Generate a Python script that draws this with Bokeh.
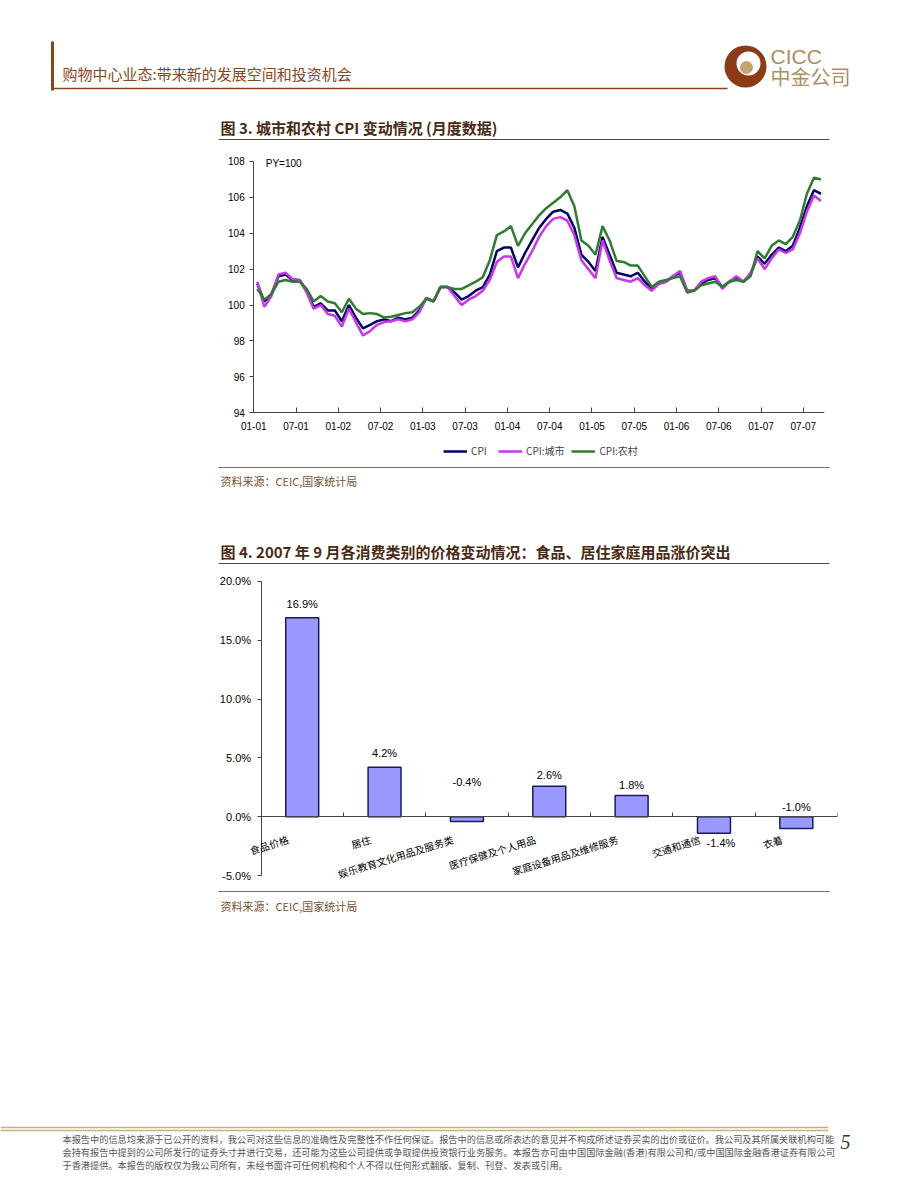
import numpy as np
from bokeh.plotting import figure
from bokeh.models import (Range1d, FixedTicker, Legend, LegendItem, PrintfTickFormatter,
                          Label, LabelSet, ColumnDataSource)
from bokeh.core.properties import value
from bokeh.embed import file_html
from bokeh.resources import INLINE

# ---------------- data ----------------
months = [f"{y}-{m:02d}" for y in range(2001, 2008) for m in range(1, 13)][:81]
tick_labels = ["01-01", "07-01", "01-02", "07-02", "01-03", "07-03", "01-04",
               "07-04", "01-05", "07-05", "01-06", "07-06", "01-07", "07-07"]

cpi = [101.2, 100.2, 100.6, 101.6, 101.7, 101.4, 101.4, 100.8, 99.9, 100.1, 99.7, 99.7,
       99.1, 100.0, 99.3, 98.7, 98.9, 99.1, 99.2, 99.1, 99.3, 99.2, 99.3, 99.7,
       100.4, 100.2, 101.0, 101.0, 100.7, 100.3, 100.5, 100.8, 101.0, 101.7, 103.0, 103.2,
       103.2, 102.1, 102.9, 103.6, 104.3, 104.8, 105.2, 105.3, 105.1, 104.3, 102.8, 102.4,
       101.9, 103.8, 102.8, 101.8, 101.7, 101.6, 101.8, 101.3, 100.9, 101.2, 101.3, 101.6,
       101.8, 100.8, 100.8, 101.2, 101.4, 101.5, 101.0, 101.3, 101.5, 101.3, 101.7, 102.7,
       102.3, 102.8, 103.2, 103.0, 103.3, 104.3, 105.5, 106.4, 106.2]
cpi_urban = [101.3, 99.9, 100.5, 101.7, 101.8, 101.45, 101.4, 100.7, 99.8, 100.0, 99.5, 99.4,
             98.8, 99.8, 99.05, 98.3, 98.55, 98.9, 99.05, 99.1, 99.2, 99.1, 99.2, 99.6,
             100.4, 100.2, 101.0, 101.0, 100.5, 100.0, 100.3, 100.5, 100.8, 101.4, 102.4, 102.7,
             102.7, 101.5, 102.3, 103.0, 103.8, 104.4, 104.8, 104.9, 104.7, 103.9, 102.5, 102.0,
             101.5, 103.6, 102.5, 101.5, 101.4, 101.3, 101.5, 101.1, 100.8, 101.2, 101.3, 101.6,
             101.9, 100.8, 100.8, 101.3, 101.5, 101.6, 100.9, 101.3, 101.6, 101.3, 101.8, 102.6,
             102.0, 102.6, 103.1, 102.9, 103.1, 104.0, 105.2, 106.1, 105.8]
cpi_rural = [100.9, 100.3, 100.6, 101.3, 101.4, 101.3, 101.3, 100.9, 100.2, 100.5, 100.2, 100.1,
             99.6, 100.35, 99.8, 99.5, 99.55, 99.5, 99.3, 99.35, 99.45, 99.55, 99.6, 99.9,
             100.35, 100.2, 101.0, 101.0, 100.9, 100.9, 101.1, 101.3, 101.55, 102.5, 103.9, 104.1,
             104.4, 103.3, 104.0, 104.5, 105.0, 105.4, 105.7, 106.0, 106.4, 105.5, 103.6, 103.3,
             102.8, 104.4, 103.6, 102.45, 102.4, 102.2, 102.2, 101.6, 101.0, 101.3, 101.4, 101.5,
             101.6, 100.7, 100.8, 101.1, 101.2, 101.3, 101.0, 101.3, 101.4, 101.3, 101.6, 103.0,
             102.6, 103.3, 103.6, 103.4, 103.8, 104.7, 106.2, 107.1, 107.0]

categories = ["食品价格", "居住", "娱乐教育文化用品及服务类", "医疗保健及个人用品",
              "家庭设备用品及维修服务", "交通和通信", "衣着"]
changes = [16.9, 4.2, -0.4, 2.6, 1.8, -1.4, -1.0]

# value-label placement (style only, screen pixels, positive = up)
lab_dx = [0, 0, 0, 0, 0, 7, 0]
lab_dy = [14, 14, 35, 11, 11, -26, 10]

CJK = value("Noto Sans CJK SC")
SANS = value("Liberation Sans")
W, H = 920, 1191

# ---------------- page (decorations) ----------------
pg = figure(width=W, height=H, x_range=Range1d(0, W), y_range=Range1d(H, 0),
            x_axis_type=None, y_axis_type=None, toolbar_location=None,
            output_backend="svg", min_border=0)
pg.grid.visible = False
pg.outline_line_color = None
pg.styles = {"position": "absolute", "left": "0px", "top": "0px"}

brown = "#8a4618"
pg.segment(x0=[52], y0=[41], x1=[52], y1=[90], line_color=brown, line_width=3)
pg.segment(x0=[52], y0=[88], x1=[727], y1=[88], line_color=brown, line_width=1.5)
pg.text(x=[62], y=[73], text=["购物中心业态:带来新的发展空间和投资机会"], text_font=CJK,
        text_font_size="15px", text_color=brown, text_baseline="middle")
# logo
pg.circle(x=[745], y=[66], radius=21, fill_color="#8c3b14", line_color=None)
pg.circle(x=[748], y=[63], radius=12, fill_color="white", line_color=None)
pg.circle(x=[746], y=[67], radius=6.5, fill_color="#c9a46a", line_color=None)
pg.text(x=[770], y=[56], text=["CICC"], text_font=SANS, text_font_size="21px",
        text_color="#b08d5b", text_baseline="middle")
pg.text(x=[770], y=[76], text=["中金公司"], text_font=CJK, text_font_size="20px",
        text_color="#b08d5b", text_baseline="middle")

title_col = "#4a2a14"
pg.text(x=[220], y=[127], text=["图 3. 城市和农村 CPI 变动情况 (月度数据)"], text_font=CJK,
        text_font_size="15px", text_font_style="bold", text_color=title_col,
        text_baseline="middle")
pg.segment(x0=[218], y0=[139], x1=[829], y1=[139], line_color="#5a4636", line_width=1.2)
pg.segment(x0=[218], y0=[467], x1=[829], y1=[467], line_color="#7a6a5a", line_width=1.2)
pg.text(x=[220], y=[480], text=["资料来源：CEIC,国家统计局"], text_font=CJK,
        text_font_size="11px", text_color="#7a5230", text_baseline="middle")
pg.text(x=[220], y=[551], text=["图 4. 2007 年 9 月各消费类别的价格变动情况：食品、居住家庭用品涨价突出"],
        text_font=CJK, text_font_size="15px", text_font_style="bold",
        text_color=title_col, text_baseline="middle")
pg.segment(x0=[218], y0=[563], x1=[829], y1=[563], line_color="#5a4636", line_width=1.2)
pg.segment(x0=[218], y0=[891], x1=[829], y1=[891], line_color="#7a6a5a", line_width=1.2)
pg.text(x=[220], y=[905], text=["资料来源：CEIC,国家统计局"], text_font=CJK,
        text_font_size="11px", text_color="#7a5230", text_baseline="middle")

pg.segment(x0=[0], y0=[1127], x1=[828], y1=[1127], line_color="#c2b280", line_width=1.5)
pg.segment(x0=[0], y0=[1130], x1=[828], y1=[1130], line_color="#c2b280", line_width=1.5)
footer = ["本报告中的信息均来源于已公开的资料，我公司对这些信息的准确性及完整性不作任何保证。报告中的信息或所表达的意见并不构成所述证券买卖的出价或征价。我公司及其所属关联机构可能",
          "会持有报告中提到的公司所发行的证券头寸并进行交易，还可能为这些公司提供或争取提供投资银行业务服务。本报告亦可由中国国际金融(香港)有限公司和/或中国国际金融香港证券有限公司",
          "于香港提供。本报告的版权仅为我公司所有，未经书面许可任何机构和个人不得以任何形式翻版、复制、刊登、发表或引用。"]
pg.text(x=[62, 62, 62], y=[1138, 1151, 1164], text=footer, text_font=CJK,
        text_font_size="9.2px", text_color="#555555", text_baseline="middle")
pg.text(x=[840], y=[1141], text=["5"], text_font=value("Liberation Serif"),
        text_font_size="20px", text_font_style="italic", text_color="#333333",
        text_baseline="middle")

# ---------------- chart 1: line chart ----------------
# frame extends past the axes so that tick labels, note and legend stay inside it
x = np.arange(len(months))
p1 = figure(width=W, height=330, x_range=Range1d(-5.93, 80.5), y_range=Range1d(91.06, 108.5),
            min_border_left=215, min_border_right=96, min_border_top=7,
            min_border_bottom=10, toolbar_location=None, output_backend="svg")
p1.styles = {"position": "absolute", "left": "0px", "top": "145px"}
p1.background_fill_color = None
p1.border_fill_color = None
p1.grid.visible = False
p1.outline_line_color = None
r1 = p1.line(x, cpi, line_color="#000066", line_width=2.5)
r2 = p1.line(x, cpi_urban, line_color="#cc33ee", line_width=2.5)
r3 = p1.line(x, cpi_rural, line_color="#2e7d2e", line_width=2.5)

p1.yaxis.fixed_location = -0.5
p1.yaxis.ticker = FixedTicker(ticks=list(range(94, 109, 2)))
p1.yaxis.bounds = (94, 108)
p1.yaxis.major_tick_out = 4
p1.yaxis.major_tick_in = 0
p1.yaxis.minor_tick_line_color = None
p1.yaxis.major_label_standoff = 5
p1.xaxis.fixed_location = 94
p1.xaxis.bounds = (-0.5, 80.5)
p1.xaxis.ticker = FixedTicker(ticks=[6 * k - 0.5 for k in range(len(tick_labels))])
p1.xaxis.major_label_overrides = {6 * k - 0.5: lab for k, lab in enumerate(tick_labels)}
p1.xaxis.major_tick_in = 5
p1.xaxis.major_tick_out = 0
p1.xaxis.minor_tick_line_color = None
p1.xaxis.major_label_standoff = 9
for ax in (p1.xaxis, p1.yaxis):
    ax.axis_line_color = "#444444"
    ax.major_tick_line_color = "#444444"
    ax.major_label_text_font = "Liberation Sans"
    ax.major_label_text_font_size = "10px"
    ax.major_label_text_color = "#000000"

p1.add_layout(Label(x=1.2, y=107.9, text="PY=100", text_font="Liberation Sans",
                    text_font_size="10px", text_baseline="middle", text_color="#000000"))

legend = Legend(items=[LegendItem(label="CPI", renderers=[r1]),
                       LegendItem(label="CPI:城市", renderers=[r2]),
                       LegendItem(label="CPI:农村", renderers=[r3])],
                orientation="horizontal", location=(228, 7),
                label_text_font="Noto Sans CJK SC", label_text_font_size="10px",
                glyph_width=24, glyph_height=8, spacing=7, label_standoff=4,
                padding=2, margin=0, border_line_color=None, background_fill_alpha=0)
p1.add_layout(legend, "center")

# ---------------- chart 2: bar chart ----------------
idx = np.arange(len(categories))
p2 = figure(width=W, height=315, x_range=Range1d(-1.235, 6.5), y_range=Range1d(-5.5, 20.5),
            min_border_left=200, min_border_right=83, min_border_top=5,
            min_border_bottom=4, toolbar_location=None, output_backend="svg")
p2.styles = {"position": "absolute", "left": "0px", "top": "570px"}
p2.background_fill_color = None
p2.border_fill_color = None
p2.grid.visible = False
p2.outline_line_color = None
p2.vbar(x=idx, top=changes, bottom=0, width=0.4, fill_color="#9999ff",
        line_color="#1a1a5e", line_width=1.5)

p2.xaxis.fixed_location = 0
p2.xaxis.bounds = (-0.5, 6.5)
p2.xaxis.ticker = FixedTicker(ticks=[k + 0.5 for k in range(len(categories))])
p2.xaxis.major_tick_in = 4
p2.xaxis.major_tick_out = 0
p2.xaxis.minor_tick_line_color = None
p2.xaxis.major_label_text_color = None
p2.yaxis.fixed_location = -0.5
p2.yaxis.bounds = (-5, 20)
p2.yaxis.ticker = FixedTicker(ticks=[-5, 0, 5, 10, 15, 20])
p2.yaxis.formatter = PrintfTickFormatter(format="%.1f%%")
p2.yaxis.major_tick_out = 4
p2.yaxis.major_tick_in = 0
p2.yaxis.minor_tick_line_color = None
p2.yaxis.major_label_standoff = 6
p2.yaxis.major_label_text_font = "Liberation Sans"
p2.yaxis.major_label_text_font_size = "11px"
p2.yaxis.major_label_text_color = "#000000"
for ax in (p2.xaxis, p2.yaxis):
    ax.axis_line_color = "#444444"
    ax.major_tick_line_color = "#444444"

cat_src = ColumnDataSource(dict(x=idx, y=[0] * len(idx), text=categories))
p2.add_layout(LabelSet(x="x", y="y", text="text", source=cat_src, angle=0.3,
                       x_offset=-14, y_offset=-22, text_align="right",
                       text_baseline="middle", text_font=CJK,
                       text_font_size="10px", text_color="#000000"))
val_src = ColumnDataSource(dict(x=idx, y=[max(v, 0) for v in changes],
                                text=[f"{v:.1f}%" for v in changes], dx=lab_dx, dy=lab_dy))
p2.add_layout(LabelSet(x="x", y="y", text="text", source=val_src, x_offset="dx",
                       y_offset="dy", text_align="center", text_baseline="middle",
                       text_font=SANS, text_font_size="11px", text_color="#000000"))

open("out.html", "w").write(file_html([pg, p1, p2], INLINE))
